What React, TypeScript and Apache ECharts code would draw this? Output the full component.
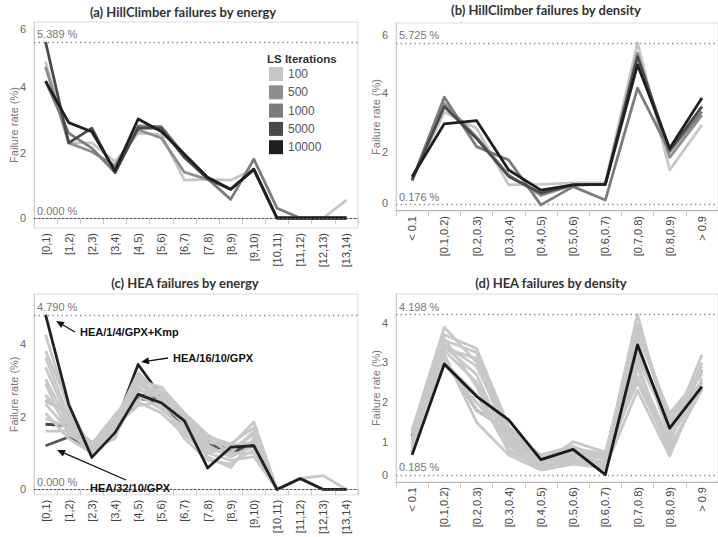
import React, { useEffect, useRef } from 'react';
import * as echarts from 'echarts';

const energyCats = ['[0,1)', '[1,2)', '[2,3)', '[3,4)', '[4,5)', '[5,6)', '[6,7)', '[7,8)', '[8,9)', '[9,10)', '[10,11)', '[11,12)', '[12,13)', '[13,14)'];
const densityCats = ['< 0.1', '[0.1,0.2)', '[0.2,0.3)', '[0.3,0.4)', '[0.4,0.5)', '[0.5,0.6)', '[0.6,0.7)', '[0.7,0.8)', '[0.8,0.9)', '> 0.9'];

const lsIterations = ['100', '500', '1000', '5000', '10000'];
const lsColors = ['#c6c6c6', '#8e8e8e', '#7c7c7c', '#4a4a4a', '#1f1f1f'];

// (a) HillClimber by energy
const hcE100 = [4.79, 2.3, 2.3, 1.72, 2.6, 2.55, 1.16, 1.18, 1.16, 1.49, 0, 0, 0, 0.55];
const hcE500 = [4.63, 2.3, 2.03, 1.6, 2.7, 2.45, 1.4, 1.18, 0.88, 1.49, 0, 0, 0, 0];
const hcE1000 = [4.19, 2.6, 2.14, 1.39, 2.82, 2.8, 1.93, 1.2, 0.57, 1.8, 0.3, 0, 0, 0];
const hcE5000 = [5.389, 2.3, 2.75, 1.39, 2.75, 2.75, 1.85, 1.2, 0.88, 1.49, 0, 0, 0, 0];
const hcE10000 = [4.19, 2.92, 2.64, 1.45, 3.03, 2.65, 1.95, 1.25, 0.88, 1.49, 0, 0, 0, 0];

// (b) HillClimber by density
const hcD100 = [1.03, 3.35, 2.8, 0.86, 0.88, 0.93, 0.93, 5.725, 1.37, 2.91];
const hcD500 = [1.0, 3.65, 2.5, 1.2, 0.5, 0.86, 0.88, 5.37, 1.8, 3.25];
const hcD1000 = [1.0, 3.86, 2.17, 1.71, 0.176, 0.8, 0.34, 4.17, 2.0, 3.37];
const hcD5000 = [1.05, 3.54, 2.45, 1.15, 0.58, 0.86, 0.88, 5.25, 2.05, 3.54];
const hcD10000 = [1.14, 2.95, 3.06, 1.37, 0.68, 0.86, 0.88, 4.97, 2.11, 3.83];

// (c) HEA by energy
const heaE_1_4_Kmp = [4.79, 2.34, 0.88, 1.56, 2.61, 2.38, 1.88, 0.59, 1.16, 1.2, 0, 0.3, 0, 0];
const heaE_16_10 = [2.44, 2.1, 0.95, 1.75, 3.43, 2.55, 1.9, 1.35, 1.1, 1.25, 0, 0.3, 0, 0];
const heaE_32_10 = [1.2, 1.44, 1.05, 1.6, 2.5, 2.4, 1.7, 1.2, 1.0, 1.2, 0, 0.3, 0, 0];
const heaE_dark2 = [1.79, 1.75, 1.1, 1.7, 2.6, 2.5, 1.8, 1.3, 1.05, 1.3, 0, 0.3, 0, 0];
const heaE_l1 = [4.25, 2.2, 1.0, 1.9, 3.2, 2.6, 1.9, 1.2, 0.9, 1.2, 0, 0.3, 0.38, 0];
const heaE_l2 = [3.62, 2.0, 1.2, 1.8, 3.0, 2.8, 2.1, 1.5, 1.1, 1.5, 0, 0.3, 0, 0];
const heaE_l3 = [3.35, 1.9, 1.1, 2.0, 2.9, 2.5, 1.8, 1.3, 1.2, 1.85, 0, 0.3, 0, 0];
const heaE_l4 = [3.03, 1.8, 1.3, 1.6, 2.8, 2.3, 1.6, 0.9, 0.6, 1.4, 0, 0.3, 0, 0];
const heaE_l5 = [2.44, 2.1, 0.95, 1.7, 2.7, 2.7, 2.0, 1.4, 1.0, 1.0, 0, 0.3, 0, 0];
const heaE_l6 = [2.35, 1.6, 1.0, 1.9, 2.4, 2.1, 1.5, 1.0, 0.8, 0.9, 0, 0.3, 0, 0];
const heaE_l7 = [1.95, 1.7, 1.15, 1.85, 2.45, 2.82, 2.0, 1.3, 1.2, 1.3, 0, 0.3, 0, 0];
const heaE_l8 = [2.9, 1.5, 1.2, 1.5, 2.6, 2.2, 1.7, 1.1, 1.0, 1.6, 0, 0.3, 0, 0];
const heaE_l9 = [1.6, 1.6, 1.1, 1.4, 3.1, 2.4, 1.4, 0.8, 0.7, 1.1, 0, 0.3, 0, 0];
const heaE_l10 = [2.1, 1.4, 1.0, 1.75, 2.3, 2.4, 1.8, 1.2, 0.9, 1.2, 0, 0.3, 0, 0];
const heaE_l11 = [3.8, 2.3, 1.05, 1.55, 2.95, 2.6, 1.75, 1.0, 1.15, 1.3, 0, 0.3, 0, 0];
const heaE_l12 = [2.6, 1.75, 1.25, 2.05, 2.75, 2.5, 2.05, 1.45, 1.25, 1.7, 0, 0.3, 0, 0];

// (d) HEA by density
const heaD_black = [0.68, 2.96, 2.15, 1.56, 0.56, 0.82, 0.185, 3.44, 1.35, 2.39];
const heaD_dark = [1.15, 3.1, 1.8, 1.3, 0.55, 0.75, 0.65, 3.3, 1.3, 2.8];
const heaD_l1 = [1.3, 3.88, 3.0, 1.1, 0.5, 0.7, 0.6, 4.198, 1.2, 3.19];
const heaD_l2 = [1.2, 3.7, 3.35, 1.4, 0.6, 0.85, 0.7, 3.85, 1.5, 2.9];
const heaD_l3 = [1.0, 3.55, 3.25, 1.2, 0.45, 1.01, 0.75, 3.7, 1.72, 2.7];
const heaD_l4 = [0.9, 3.4, 2.7, 0.9, 0.35, 0.6, 0.5, 3.0, 0.68, 2.5];
const heaD_l5 = [0.8, 3.3, 2.5, 1.0, 0.4, 0.55, 0.45, 2.65, 0.9, 2.3];
const heaD_l6 = [0.7, 3.2, 1.5, 0.68, 0.3, 0.45, 0.35, 2.3, 0.65, 2.6];
const heaD_l7 = [1.1, 3.1, 1.8, 1.3, 0.55, 0.75, 0.65, 3.3, 1.3, 2.8];
const heaD_l8 = [0.95, 3.0, 2.2, 0.8, 0.34, 0.5, 0.4, 2.85, 1.0, 3.0];
const heaD_l9 = [0.75, 3.45, 2.9, 1.25, 0.68, 0.9, 0.55, 3.55, 1.1, 2.4];
const heaD_l10 = [1.25, 3.6, 2.4, 0.75, 0.42, 0.65, 0.3, 3.1, 1.4, 2.55];
const heaD_l11 = [0.85, 2.95, 2.0, 1.05, 0.5, 0.8, 0.7, 2.5, 0.8, 2.35];
const heaD_l12 = [1.05, 3.35, 3.1, 0.95, 0.38, 0.6, 0.6, 3.95, 1.6, 2.75];

const panelTitles = ['(a) HillClimber failures by energy', '(b) HillClimber failures by density', '(c) HEA failures by energy', '(d) HEA failures by density'];
const yTicks = [[0, 2, 4, 6], [0, 2, 4, 6], [0, 2, 4], [0, 1, 2, 3, 4]];

const LIGHT = '#c8c8c8';
const FONT = 'Arial';

function arrow(x1: number, y1: number, x2: number, y2: number): any[] {
  const dx = x2 - x1, dy = y2 - y1;
  const len = Math.hypot(dx, dy);
  const ux = dx / len, uy = dy / len;
  const L = 8, W = 3.5;
  const bx = x2 - ux * L, by = y2 - uy * L;
  return [
    { type: 'line', shape: { x1, y1, x2: bx, y2: by }, style: { stroke: '#111', lineWidth: 1.3 }, z: 100 },
    { type: 'polygon', shape: { points: [[x2, y2], [bx - uy * W, by + ux * W], [bx + uy * W, by - ux * W]] }, style: { fill: '#111' }, z: 100 },
  ];
}

export default function App() {
  const ref = useRef<HTMLDivElement>(null);
  useEffect(() => {
    if (!ref.current) return;
    const chart = echarts.init(ref.current, undefined, { renderer: 'svg' });

    const hcE = [hcE100, hcE500, hcE1000, hcE5000, hcE10000];
    const hcD = [hcD100, hcD500, hcD1000, hcD5000, hcD10000];
    const heaELights = [heaE_l1, heaE_l2, heaE_l3, heaE_l4, heaE_l5, heaE_l6, heaE_l7, heaE_l8, heaE_l9, heaE_l10, heaE_l11, heaE_l12];
    const heaDLights = [heaD_l1, heaD_l2, heaD_l3, heaD_l4, heaD_l5, heaD_l6, heaD_l7, heaD_l8, heaD_l9, heaD_l10, heaD_l11, heaD_l12];

    const panelData = [
      hcE,
      hcD,
      [heaE_1_4_Kmp, heaE_16_10, heaE_32_10, heaE_dark2, ...heaELights],
      [heaD_black, heaD_dark, ...heaDLights],
    ];

    const grids = [
      { left: 34, top: 22, width: 324, height: 206 },
      { left: 396, top: 23, width: 326, height: 188 },
      { left: 34, top: 294, width: 324, height: 202 },
      { left: 396, top: 294, width: 326, height: 188 },
    ];
    const yExt = [[-0.306, 6], [-0.034, 6.4], [-0.145, 5.364], [0, 4.715]];
    const clamp: any[] = [{ v: 6, pad: [14, 0, 0, 0] }, { v: 0, pad: [0, 0, 14, 0] }, null, { v: 0, pad: [0, 0, 14, 0] }];

    const line = (name: string, data: number[], gi: number, color: string, z: number) => ({
      type: 'line', name, data, xAxisIndex: gi, yAxisIndex: gi, symbol: 'none', z,
      lineStyle: { color, width: 2.8, join: 'round' }, itemStyle: { color }, silent: true,
    });

    const series: any[] = [];
    lsIterations.forEach((n, k) => series.push(line(n, hcE[k], 0, lsColors[k], 2)));
    lsIterations.forEach((n, k) => series.push(line(n, hcD[k], 1, lsColors[k], 2)));
    series.push(line('HEA/16/10/GPX', heaE_16_10, 2, '#222', 2));
    series.push(line('HEA/32/10/GPX', heaE_32_10, 2, '#555', 2));
    series.push(line('HEA dark', heaE_dark2, 2, '#444', 2));
    heaELights.forEach((d, k) => series.push(line('HEA e' + k, d, 2, LIGHT, 3)));
    series.push(line('HEA/1/4/GPX+Kmp', heaE_1_4_Kmp, 2, '#222', 4));
    series.push(line('HEA d dark', heaD_dark, 3, '#333', 2));
    heaDLights.forEach((d, k) => series.push(line('HEA d' + k, d, 3, LIGHT, 3)));
    series.push(line('HEA d black', heaD_black, 3, '#1a1a1a', 4));

    // reference lines at panel max and min
    panelData.forEach((arrs, gi) => {
      const all = (arrs as number[][]).flat();
      const mx = Math.max(...all);
      const mn = Math.min(...all);
      const mk = (v: number) => ({
        yAxis: v,
        lineStyle: v === 0
          ? { color: '#555', type: [2, 2], width: 1.2 }
          : { color: '#8a8a8a', type: [1.4, 3.2], width: 1.4 },
        label: {
          show: true, position: 'insideStartTop', formatter: v.toFixed(3) + ' %',
          color: '#777', fontSize: 11, fontFamily: FONT, distance: [3, 2],
        },
      });
      series.push({
        type: 'line', name: 'ref' + gi, data: [], xAxisIndex: gi, yAxisIndex: gi, z: 5, silent: true,
        markLine: { silent: true, symbol: ['none', 'none'], animation: false, data: [mk(mx), mk(mn)] },
      });
    });

    const graphic: any[] = [];
    const titlePos = [[183, 12], [546, 10], [185, 283], [551, 283]];
    panelTitles.forEach((t, i) => graphic.push({
      type: 'text', x: titlePos[i][0], y: titlePos[i][1],
      style: { text: t, fill: '#333', fontFamily: 'Lato', fontWeight: 'bold', fontSize: 13, align: 'center', verticalAlign: 'middle' },
    }));
    graphic.push({
      type: 'text', x: 267, y: 59,
      style: { text: 'LS Iterations', fill: '#333', fontFamily: FONT, fontWeight: 'bold', fontSize: 11.5, align: 'left', verticalAlign: 'middle' },
    });
    const ann = (text: string, x: number, y: number) => ({
      type: 'text', x, y, z: 100,
      style: { text, fill: '#111', fontFamily: FONT, fontWeight: 'bold', fontSize: 11, align: 'left', verticalAlign: 'middle' },
    });
    graphic.push(ann('HEA/1/4/GPX+Kmp', 80, 332));
    graphic.push(...arrow(75, 332, 56, 321));
    graphic.push(ann('HEA/16/10/GPX', 173, 358));
    graphic.push(...arrow(168, 358, 141, 362));
    graphic.push(ann('HEA/32/10/GPX', 90, 488));
    graphic.push(...arrow(126, 480, 57, 450));

    const option: any = {
      animation: false,
      backgroundColor: '#fff',
      textStyle: { fontFamily: FONT },
      grid: grids.map(g => ({ ...g, show: true, borderColor: '#dcdcdc', borderWidth: 1, backgroundColor: 'transparent', containLabel: false })),
      xAxis: grids.map((_, i) => ({
        type: 'category', gridIndex: i, data: i % 2 === 0 ? energyCats : densityCats, boundaryGap: true,
        axisLine: { show: true, lineStyle: { color: '#b5b5b5', width: 1 } },
        axisTick: { show: true, length: 6, lineStyle: { color: '#c8c8c8' } },
        axisLabel: { rotate: 90, interval: 0, fontSize: 11, color: '#444', margin: 5, fontFamily: FONT },
        splitLine: { show: false },
      })),
      yAxis: grids.map((_, i) => ({
        type: 'value', gridIndex: i, min: yExt[i][0], max: yExt[i][1],
        splitLine: { show: false },
        axisLine: { show: true, lineStyle: { color: '#d0d0d0' } },
        axisTick: { show: false },
        name: 'Failure rate (%)', nameLocation: 'middle', nameGap: 15, nameMoveOverlap: false,
        nameTextStyle: { color: '#777', fontSize: 11, fontFamily: FONT },
        axisLabel: {
          customValues: yTicks[i], color: '#666', fontSize: 11, fontFamily: FONT, margin: 8,
          formatter: (v: number) => (clamp[i] && v === clamp[i].v ? '{s|' + v + '}' : String(v)),
          rich: clamp[i] ? { s: { padding: clamp[i].pad, color: '#666', fontSize: 11, fontFamily: FONT } } : undefined,
        },
      })),
      legend: {
        data: lsIterations, orient: 'vertical', left: 269, top: 67, itemWidth: 14, itemHeight: 14, itemGap: 4.3,
        icon: 'rect', padding: 0, selectedMode: false,
        textStyle: { fontSize: 12, color: '#555', fontFamily: FONT },
      },
      series,
      graphic,
    };
    chart.setOption(option);
    return () => chart.dispose();
  }, []);
  return <div ref={ref} style={{ position: 'absolute', left: 0, top: 0, width: 718, height: 537 }} />;
}
